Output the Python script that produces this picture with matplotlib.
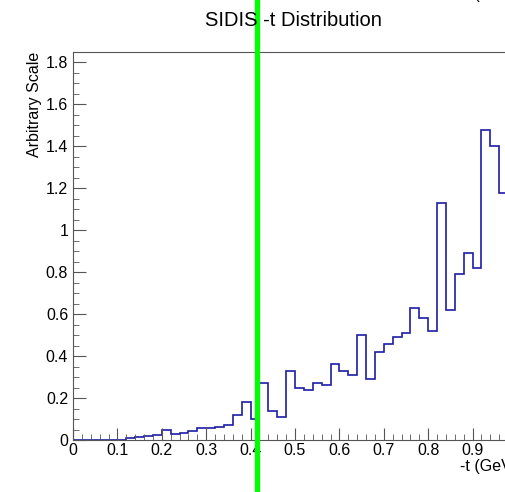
import numpy as np
import matplotlib.pyplot as plt

plt.rcParams['font.family'] = ['Liberation Sans', 'DejaVu Sans']

# histogram of -t, bins of 0.02 GeV^2
bin_edges = np.round(np.arange(0, 1.0001, 0.02), 2)
counts = [0.002, 0.002, 0.002, 0.002, 0.002, 0.002, 0.01, 0.015, 0.02, 0.025,
          0.05, 0.03, 0.035, 0.045, 0.055, 0.055, 0.06, 0.07, 0.12, 0.18,
          0.10, 0.27, 0.14, 0.11, 0.33, 0.25, 0.24, 0.27, 0.26, 0.36,
          0.33, 0.31, 0.50, 0.29, 0.42, 0.46, 0.49, 0.51, 0.63, 0.58,
          0.52, 1.13, 0.62, 0.79, 0.89, 0.82, 1.48, 1.40, 1.18, 1.18]
t_cut = 0.414
x_labels = ['0', '0.1', '0.2', '0.3', '0.4', '0.5', '0.6', '0.7', '0.8', '0.9', '']
y_labels = ['0', '0.2', '0.4', '0.6', '0.8', '1', '1.2', '1.4', '1.6', '1.8']

fig = plt.figure(figsize=(5.06, 4.92), dpi=100)
# axes runs a bit past the right edge, like the cropped reference
ax = fig.add_axes([73/506, 52/492, 444/506, 388/492])

ax.stairs(counts, bin_edges, color='#1c1ca6', linewidth=1.2)
ax.axvline(t_cut, ymin=-0.2, ymax=1.3, color='#00ff00', linewidth=3.8,
           clip_on=False, zorder=10)

ax.set_xlim(0, 1.0)
ax.set_ylim(0, 1.85)
ax.set_xticks(np.arange(0, 1.01, 0.1))
ax.set_xticks(np.arange(0, 1.01, 0.02), minor=True)
ax.set_yticks(np.arange(0, 1.81, 0.2))
ax.set_yticks(np.arange(0, 1.86, 0.05), minor=True)
ax.set_xticklabels(x_labels)
ax.set_yticklabels(y_labels)
ax.tick_params(which='both', direction='in', color='#555555', labelsize=11.5,
               top=False, right=False)
ax.tick_params(which='major', length=9)
ax.tick_params(which='minor', length=4.5)
ax.tick_params(axis='x', pad=2)
for s in ax.spines.values():
    s.set_color('#555555')
    s.set_linewidth(0.8)

fig.text(0.579, 0.959, 'SIDIS -t Distribution', fontsize=14.5, ha='center', va='center')
fig.text(0.069, 52/492 + 388/492, 'Arbitrary Scale', fontsize=11.5, rotation=90,
         ha='center', va='top')
fig.text(517/506, 1 - 467/492, '-t (GeV)', fontsize=11.5, ha='right', va='center')
fig.text(517/506, 1.012, '-t (GeV)', fontsize=11.5, ha='right', va='center')

fig.savefig('out.png', dpi=100)
